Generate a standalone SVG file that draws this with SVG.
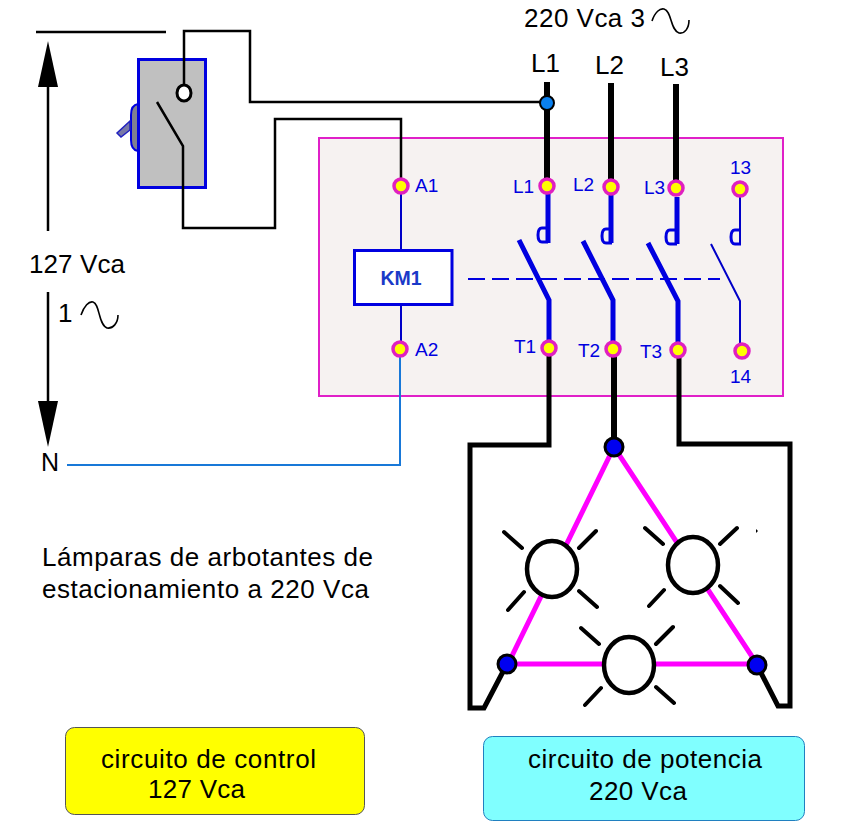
<svg xmlns="http://www.w3.org/2000/svg" width="848" height="835" viewBox="0 0 848 835">
<style>
text{font-family:"Liberation Sans",Arial,sans-serif}
.k{fill:#000}
.b{fill:#0000e0}
.t24{font-size:26px}
.t18{font-size:19px}
.w{fill:none;stroke:#000;stroke-width:2.500}
.p{fill:none;stroke:#000;stroke-width:6}
.f{fill:none;stroke:#000;stroke-width:5}
.bt{fill:none;stroke:#0000e0;stroke-width:5}
.bn{fill:none;stroke:#0000c8;stroke-width:2}
.hook{fill:none;stroke:#0000e0;stroke-width:3}
.term{fill:#ffff00;stroke:#e020c0;stroke-width:3.500}
.dot{fill:#0000f0;stroke:#000;stroke-width:3}
.tri{fill:none;stroke:#ff00ff;stroke-width:5}
.lamp{fill:#fff;stroke:#000;stroke-width:4.500}
.ray{fill:none;stroke:#000;stroke-width:4;stroke-linecap:round}
.sine{fill:none;stroke:#000;stroke-width:1.600}
</style>
<rect width="848" height="835" fill="#fff"/>
<g id="contactor">
<rect x="319" y="138" width="464" height="258" fill="#f6f2f1" stroke="#e020c8" stroke-width="2"/>
</g>
<g id="switch">
<path d="M138 104Q131 105 131 115V140Q131 150 138 151Z" fill="#808090" stroke="#0000e0" stroke-width="2"/>
<path d="M130 121L117 133L121 137L130 130Z" fill="#7878a8" stroke="#2020c0" stroke-width="1.500"/>
<rect x="138.500" y="59.500" width="67" height="128" fill="#c0c0c0" stroke="#0000e0" stroke-width="3"/>
</g>
<g id="connectors">
<path class="w" d="M36 32H166"/>
<path class="w" d="M184 85V31H250V102H547"/>
<path class="w" d="M157 102L183 146V228H275V119H401V180"/>
<path class="bn" d="M401 190V250M401 305V345"/>
<path d="M400 355V465H67" fill="none" stroke="#1878d8" stroke-width="2"/>
<path class="w" d="M48 231V64"/><path d="M48 41L38 87H58Z"/>
<path class="w" d="M48 292V405"/><path d="M48 447L38 401H58Z"/>
<path class="p" d="M547 82V180M611 83V180M676 84V182"/>
<path class="f" d="M549 354V445H470V708H484L507 664"/>
<path class="p" d="M614 354V446"/>
<path class="f" d="M679 356V444H790V706H778L757 665"/>
<path class="bt" d="M548 194V243M611 195V243M677 197V244"/>
<path class="hook" d="M547 228H542Q538 228 538 235Q538 242 542 242H548M611 229H606Q602 229 602 236Q602 243 606 243H612M675 230H670Q666 230 666 237Q666 244 670 244H677M739 230H735Q731 230 731 237Q731 244 735 244H741"/>
<path class="bn" d="M740 197V244"/>
<path class="bt" d="M519 240L549 300V342M583 241L613 300V342M648 243L678 301V344"/>
<path class="bn" d="M711 244L740 301V345"/>
<path d="M468 279H720" fill="none" stroke="#0000e0" stroke-width="2" stroke-dasharray="17 7"/>
<path class="tri" d="M614 447L508 664H757Z"/>
</g>
<g id="km1">
<rect x="354.500" y="250.500" width="97.500" height="54" fill="#fff" stroke="#0000e0" stroke-width="3"/>
<text x="401" y="285" text-anchor="middle" font-size="19.500" font-weight="700" fill="#1a3ac8">KM1</text>
</g>
<g id="terminals">
<circle class="term" cx="401" cy="186" r="7"/><circle class="term" cx="547" cy="186" r="7"/><circle class="term" cx="611" cy="187" r="7"/><circle class="term" cx="676" cy="188" r="7"/><circle class="term" cx="740" cy="189" r="7"/>
<circle class="term" cx="400" cy="349" r="7"/><circle class="term" cx="549" cy="348" r="7"/><circle class="term" cx="613" cy="349" r="7"/><circle class="term" cx="678" cy="350" r="7"/><circle class="term" cx="742" cy="351" r="7"/>
<text class="b t18" x="415" y="192">A1</text><text class="b t18" x="415" y="356">A2</text>
<text class="b t18" x="513" y="193">L1</text><text class="b t18" x="573" y="191">L2</text><text class="b t18" x="644" y="194">L3</text>
<text class="b t18" x="730" y="174">13</text><text class="b t18" x="730" y="383">14</text>
<text class="b t18" x="514" y="353">T1</text><text class="b t18" x="578" y="357">T2</text><text class="b t18" x="640" y="358">T3</text>
</g>
<g id="lamps">
<ellipse class="lamp" cx="552" cy="569" rx="25" ry="28"/>
<ellipse class="lamp" cx="693" cy="565" rx="25" ry="28"/>
<ellipse class="lamp" cx="629" cy="665" rx="25" ry="28"/>
<path class="ray" d="M504 532L522 548M596 531L579 548M524 592L508 610M579 591L597 607M645 528L663 544M737 528L720 544M664 590L649 606M720 586L738 603M581 628L599 644M673 627L656 644M601 688L585 705M656 687L674 703"/>
<path d="M756 529L758 531L756 533Z"/>
</g>
<g id="junctions">
<circle cx="547" cy="103" r="7" fill="#0a80f0" stroke="#000" stroke-width="2"/>
<circle class="dot" cx="614" cy="447" r="9"/><circle class="dot" cx="507" cy="664" r="9"/><circle class="dot" cx="757" cy="665" r="9"/>
<ellipse cx="184" cy="93" rx="7" ry="8" fill="#fff" stroke="#000" stroke-width="3"/>
</g>
<g id="labels">
<text class="k t24" x="524" y="27" textLength="121">220 Vca 3</text>
<path class="sine" d="M652 21C655 12 660 8 664 9C672 11 670 30 679 33C685 34 689 28 689 20"/>
<text class="k t24" x="531" y="72">L1</text><text class="k t24" x="595" y="74">L2</text><text class="k t24" x="660" y="76">L3</text>
<text class="k t24" x="29" y="273" textLength="96">127 Vca</text>
<text class="k t24" x="58" y="322">1</text>
<path class="sine" d="M81 315C84 306 89 301 93 302C100 304 98 324 107 328C113 329 118 323 118 315"/>
<text class="k" font-size="25" x="41" y="471">N</text>
<text class="k t24" x="42" y="566" textLength="331">Lámparas de arbotantes de</text>
<text class="k t24" x="42" y="598" textLength="327">estacionamiento a 220 Vca</text>
</g>
<g id="control-box">
<rect x="65.500" y="727.500" width="299" height="87" rx="9" fill="#ffff00" stroke="#555" stroke-width="1"/>
<text class="k t24" x="101" y="768" textLength="215">circuito de control</text>
<text class="k t24" x="148" y="798" textLength="97">127 Vca</text>
</g>
<g id="power-box">
<rect x="483.500" y="736.500" width="321" height="84" rx="9" fill="#80ffff" stroke="#2080c0" stroke-width="1"/>
<text class="k t24" x="528" y="768" textLength="234">circuito de potencia</text>
<text class="k t24" x="589" y="800" textLength="98">220 Vca</text>
</g>
</svg>
